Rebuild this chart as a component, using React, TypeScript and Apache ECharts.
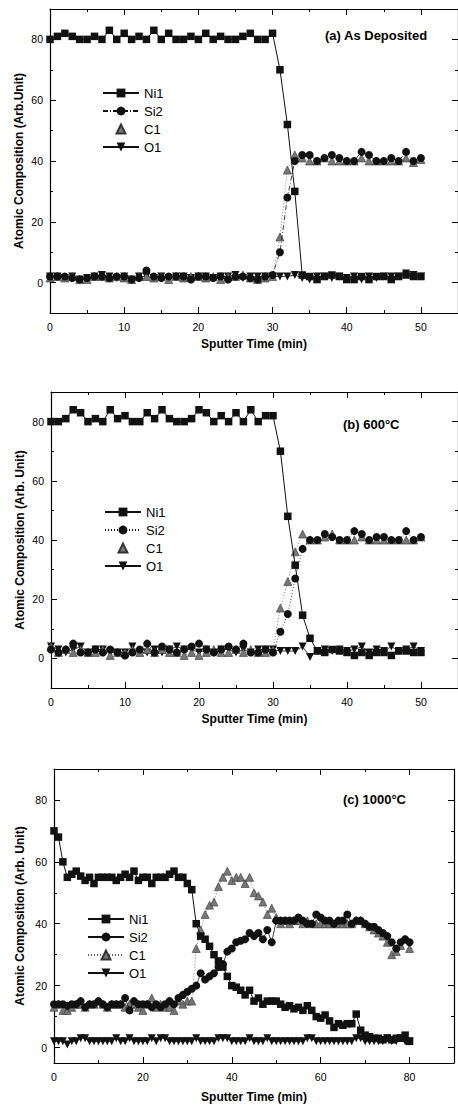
import React, { useEffect, useRef } from 'react';
import * as echarts from 'echarts';

const FONT = "'Liberation Sans', Arial, Helvetica, sans-serif";

// ---------- (a) As Deposited ----------
const timeA = [0,1,2,3,4,5,6,7,8,9,10,11,12,13,14,15,16,17,18,19,20,21,22,23,24,25,26,27,28,29,30,31,32,33,34,35,36,37,38,39,40,41,42,43,44,45,46,47,48,49,50];
const niA = [80,81,82,81,80,80,81,80,83,80,82,80,81,80,83,80,82,80,80,81,80,82,80,81,80,80,81,82,80,80,82,70,52,30,2.5,2,1,2,2.5,2,1,1,2,1,2,2,1,2,2.5,2,2];
const siA = [2,2,2,1.5,1,1.5,2,2,1.5,2,2,1,1.5,4,2,1.5,2,2,2,1,2,2,1.5,2,1,2,2,1.5,1,2,2.5,10,28,40,42,42,40,41,42,41,40,40,43,42,40,40,41,40,43,40,41];
const cA = [1.5,2,1.5,2,1,1,2,2,1.5,2,1.5,1,2,2,1.5,2,1,2,1.5,2,2,1.5,2,1,2,2,2.5,1.5,1,1.5,2,15,37,42,41,40,40,41,40,40,40,40,41,40,40,40,40,40,41,39.5,40.5];
const oA = [2,2,1.5,2,1,1.5,2,2.5,2,1.5,2,1,2,2,1.5,2,1.5,2,2,1.5,2,2,1.5,2,2,2.5,1.5,2,2,2,2,2,2,2.5,1.5,1,2,2,1.5,2,1.5,2,1,2,1.5,2,2,2,3,2.5,2];

// ---------- (b) 600°C ----------
const timeB = [0,1,2,3,4,5,6,7,8,9,10,11,12,13,14,15,16,17,18,19,20,21,22,23,24,25,26,27,28,29,30,31,32,33,34,35,36,37,38,39,40,41,42,43,44,45,46,47,48,49,50];
const niB = [80,80,81,84,83,80,81,80,84,81,82,80,80,83,81,84,81,80,80,81,84,83,80,82,80,83,80,84,80,82,82,70,48,31.5,14.6,6.8,2.5,2,3,2.5,2,1,2,1,2,2,1,2.5,2.5,2,2];
const siB = [3,2,3,5,2,2,3,2,3,2,1,2,3,5,2,4,3,2,3,4,5,3,2,3,4,3,5,2,2,3,2,9,15,27,37,40,40,42,41,40,40,43,42,40,41,41,40,40,43,40,41];
const cB = [4,2,3,2,3,2,2,3,1,2,2,3,2,3,2,3,2,2,1,2,1,2,3,2,2,3,2,3,2,2,3,17,26,36,42,40,40,41,42,40,40,40,41,40,40,40,40,40,40,40,41];
const oB = [4,3,2,3,4,2,3,3,2,2,2,4,2,2,3,2,3,4,3,3,2,3,2,3,3,2,3,2,3,3,3,2.5,2.5,2.5,4,0.5,2.5,3,2.5,3,2.5,3,4,2,3,2.5,4,2.5,3,4,2.5];

// ---------- (c) 1000°C ----------
const timeC = [0,1,2,3,4,5,6,7,8,9,10,11,12,13,14,15,16,17,18,19,20,21,22,23,24,25,26,27,28,29,30,31,32,33,34,35,36,37,38,39,40,41,42,43,44,45,46,47,48,49,50,51,52,53,54,55,56,57,58,59,60,61,62,63,64,65,66,67,68,69,70,71,72,73,74,75,76,77,78,79,80];
const niC = [70,68,60,55,56,57,55.4,54,55,53,55,55,55,55,54,55,56,55,57,54,55,55,53,55,55,55,56,57,55,55,53,51,40,36,35,32.7,30,28,26,23,20,19.5,18.5,17,18.5,15,16,14,15,15,15,14,13,13.5,12.5,13,12,13.5,12,10,9.5,10.5,8.6,6.5,7.7,7.2,7.7,7.7,10.8,5.6,4,3.5,3,3,2.5,3,2.5,3,3,4,2];
const siC = [14,14,14,13.5,14,14,15,13,14,14,15,14,13,14,14,14,16,12,15,14,14,14,13,14,13,14,15,14,16,17,18,19,20,24,22,23,24,26,27,31,32,34,34.5,35,37,36,37,35,38,34,41,41,41,41,41,42,41,40,40,43,42,41,41,40,41,41,43,40,41,41,40,39,39,38,37,36,34,32,34,35,34];
const cC = [13,14,12,12,13,14,14,13,14,14,15,14,13,14,14,14,13,14,14,13,12,14,16,13,14,13,13,12,15,14,15,15,32,38,43,46,47,52,55,57,54,55,55,53,55,50,49,47,43,45,42,40,41,40,41,41,40,41,40,40,40,40,40,40,40,40,40,40,41,41,40,39,38,37,36,34,30,31,33,35,32];
const oC = [2,2,2,1,2,2,3,3,2,2,2,2,2,2,3,2,2,3,2,2,2,2,3,2,3,3,2,2,2,2,2,2,3,2,2,2,2,3,3,3,2,2,2,2,3,2,2,2,3,2,2,2,2,2,2,2,2,3,3,2,2,2,2,2,2,2,2,2,3,3,2,2,2,2,2,3,2,2,3,2,2];

// ---------- ticks ----------
const xMajorAB = [0, 10, 20, 30, 40, 50];
const xMinorAB = [5, 15, 25, 35, 45];
const xMajorC = [0, 20, 40, 60, 80];
const xMinorC = [10, 30, 50, 70];
const yMajor = [0, 20, 40, 60, 80];
const yMinor = [10, 30, 50, 70];

const panelLabels = ['(a) As Deposited', '(b) 600°C', '(c) 1000°C'];
const yNames = ['Atomic Composition (Arb.Unit)', 'Atomic Composition (Arb. Unit)', 'Atomic Composition (Arb. Unit)'];
const xName = 'Sputter Time (min)';

const grids = [
  { left: 50, top: 9, width: 410, height: 304 },
  { left: 51, top: 392, width: 409, height: 296 },
  { left: 54, top: 769, width: 400, height: 294 },
];
const xRanges = [[0, 55], [0, 55], [0, 90]];
const yRanges = [[-10, 90], [-10, 90], [-5, 90]];
const xMajors = [xMajorAB, xMajorAB, xMajorC];
const xMinors = [xMinorAB, xMinorAB, xMinorC];
const titlePos = [{ left: 325, top: 29 }, { left: 343, top: 418 }, { left: 343, top: 793 }];
const legendPos = [{ left: 97, top: 81 }, { left: 99, top: 500 }, { left: 82, top: 907 }];
const yNameGaps = [25, 25, 28];
const xNameGaps = [25, 25, 28];

const panelData = [
  { tag: '(a)', t: timeA, ni: niA, si: siA, c: cA, o: oA, siType: [5, 2, 1, 2], cLineLegend: false },
  { tag: '(b)', t: timeB, ni: niB, si: siB, c: cB, o: oB, siType: [1, 2], cLineLegend: false },
  { tag: '(c)', t: timeC, ni: niC, si: siC, c: cC, o: oC, siType: 'solid', cLineLegend: true },
];

const pts = (xs: number[], ys: number[]) => xs.map((x, i) => [x, ys[i]]);

function buildOption() {
  const xAxis: any[] = [];
  const yAxis: any[] = [];
  const series: any[] = [];
  const legend: any[] = [];
  const title: any[] = [];
  const lineC = { color: '#000', width: 1.2 };
  const tickC = { color: '#000', width: 1 };

  grids.forEach((g, p) => {
    const [x0, x1] = xRanges[p];
    const [y0, y1] = yRanges[p];
    const baseX = { gridIndex: p, type: 'value', min: x0, max: x1, splitLine: { show: false } };
    const baseY = { gridIndex: p, type: 'value', min: y0, max: y1, splitLine: { show: false } };
    xAxis.push(
      {
        ...baseX, position: 'bottom',
        axisLine: { show: true, onZero: false, lineStyle: lineC },
        axisTick: { show: true, inside: true, length: 6, customValues: xMajors[p], lineStyle: tickC },
        axisLabel: { show: true, customValues: xMajors[p], margin: 8, fontSize: 10.5, color: '#000', fontFamily: FONT },
        name: xName, nameLocation: 'middle', nameGap: xNameGaps[p], nameMoveOverlap: false,
        nameTextStyle: { fontSize: 12, fontWeight: 'bold', color: '#000', fontFamily: FONT },
      },
      {
        ...baseX, position: 'top',
        axisLine: { show: true, onZero: false, lineStyle: lineC },
        axisTick: { show: true, inside: true, length: 6, customValues: xMajors[p], lineStyle: tickC },
        axisLabel: { show: false },
      },
      {
        ...baseX, position: 'bottom',
        axisLine: { show: false, onZero: false },
        axisTick: { show: true, inside: true, length: 3, customValues: xMinors[p], lineStyle: tickC },
        axisLabel: { show: false },
      },
      {
        ...baseX, position: 'top',
        axisLine: { show: false, onZero: false },
        axisTick: { show: true, inside: true, length: 3, customValues: xMinors[p], lineStyle: tickC },
        axisLabel: { show: false },
      },
    );
    yAxis.push(
      {
        ...baseY, position: 'left',
        axisLine: { show: true, onZero: false, lineStyle: lineC },
        axisTick: { show: true, inside: true, length: 6, customValues: yMajor, lineStyle: tickC },
        axisLabel: { show: true, customValues: yMajor, margin: 7, fontSize: 10.5, color: '#000', fontFamily: FONT },
        name: yNames[p], nameLocation: 'middle', nameGap: yNameGaps[p], nameMoveOverlap: false,
        nameTextStyle: { fontSize: 12, fontWeight: 'bold', color: '#000', fontFamily: FONT },
      },
      {
        ...baseY, position: 'right',
        axisLine: { show: true, onZero: false, lineStyle: lineC },
        axisTick: { show: true, inside: true, length: 6, customValues: yMajor, lineStyle: tickC },
        axisLabel: { show: false },
      },
      {
        ...baseY, position: 'left',
        axisLine: { show: false, onZero: false },
        axisTick: { show: true, inside: true, length: 3, customValues: yMinor, lineStyle: tickC },
        axisLabel: { show: false },
      },
      {
        ...baseY, position: 'right',
        axisLine: { show: false, onZero: false },
        axisTick: { show: true, inside: true, length: 3, customValues: yMinor, lineStyle: tickC },
        axisLabel: { show: false },
      },
    );

    const d = panelData[p];
    const common = { type: 'line', xAxisIndex: 4 * p, yAxisIndex: 4 * p, showSymbol: true, silent: true, emphasis: { disabled: true } };
    const nNi = 'Ni1 ' + d.tag, nSi = 'Si2 ' + d.tag, nC = 'C1 ' + d.tag, nO = 'O1 ' + d.tag;
    series.push(
      {
        ...common, name: nO, data: pts(d.t, d.o), symbol: 'triangle', symbolRotate: 180, symbolSize: 8,
        itemStyle: { color: '#111' }, lineStyle: { color: '#111', width: 0.8, type: 'solid' }, z: 2,
      },
      {
        ...common, name: nC, data: pts(d.t, d.c), symbol: 'triangle', symbolSize: 8,
        itemStyle: { color: '#777', borderColor: '#333', borderWidth: 0.6 },
        lineStyle: { color: '#666', width: 0.8, type: [1, 2] }, z: 3,
      },
      {
        ...common, name: nSi, data: pts(d.t, d.si), symbol: 'circle', symbolSize: 8,
        itemStyle: { color: '#111' }, lineStyle: { color: '#111', width: 0.8, type: d.siType }, z: 4,
      },
      {
        ...common, name: nNi, data: pts(d.t, d.ni), symbol: 'rect', symbolSize: 7.5,
        itemStyle: { color: '#111' }, lineStyle: { color: '#111', width: 1, type: 'solid' }, z: 5,
      },
    );

    legend.push({
      orient: 'vertical', left: legendPos[p].left, top: legendPos[p].top,
      itemWidth: 36, itemHeight: 11, itemGap: 4, selectedMode: false,
      symbolRotate: 'inherit',
      formatter: (name: string) => name.split(' ')[0],
      textStyle: { fontSize: 13, color: '#000', fontFamily: FONT, lineHeight: 14 },
      data: [
        { name: nNi },
        { name: nSi },
        d.cLineLegend ? { name: nC } : { name: nC, lineStyle: { color: 'rgba(0,0,0,0)' } },
        { name: nO },
      ],
    });

    title.push({
      text: panelLabels[p], left: titlePos[p].left, top: titlePos[p].top, padding: 0,
      textStyle: { fontSize: 13, fontWeight: 'bold', color: '#000', fontFamily: FONT },
    });
  });

  return {
    animation: false,
    backgroundColor: '#fff',
    textStyle: { fontFamily: FONT },
    grid: grids.map((g) => ({ ...g, containLabel: false })),
    xAxis, yAxis, series, legend, title,
  };
}

export default function App() {
  const ref = useRef<HTMLDivElement>(null);
  useEffect(() => {
    if (!ref.current) return;
    const chart = echarts.init(ref.current, null, { renderer: 'svg' });
    chart.setOption(buildOption() as any);
    return () => chart.dispose();
  }, []);
  return (
    <div
      ref={ref}
      style={{ position: 'absolute', left: 0, top: 0, width: 458, height: 1106, background: '#fff' }}
    />
  );
}
